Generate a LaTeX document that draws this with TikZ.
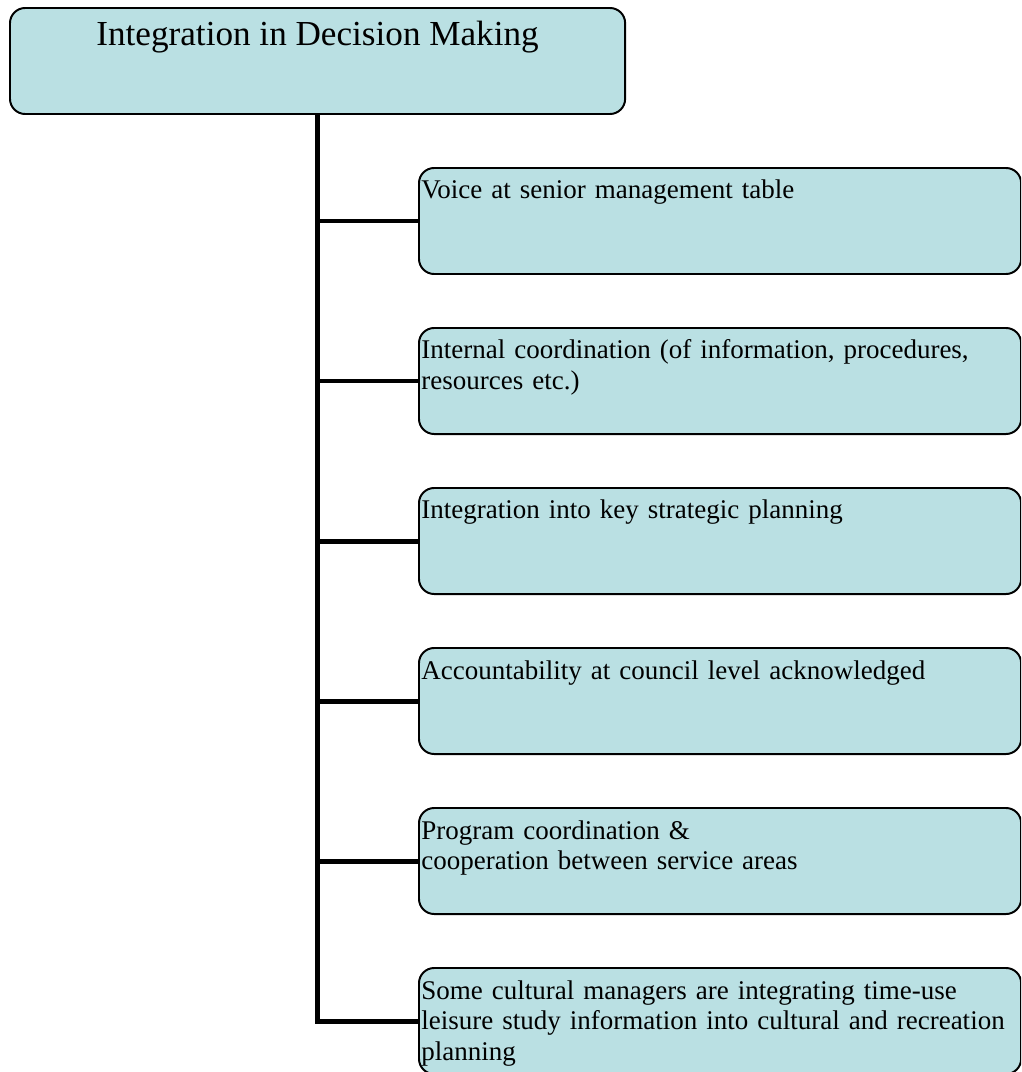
\documentclass[tikz,border=0pt]{standalone}
\usepackage{fontspec}
\setmainfont{Liberation Serif}
\usetikzlibrary{positioning}
\definecolor{boxfill}{RGB}{186,224,227}
\tikzset{topbox/.style={draw=black, line width=1.4pt, fill=boxfill, rounded corners=0.38cm,
  inner sep=0pt, minimum width=15.375cm, minimum height=2.65cm,
  text height=0.95cm, text depth=1.7cm, font=\fontsize{25pt}{29pt}\selectfont},
%children sit to the right of the trunk
itembox/.style={draw=black, line width=1.4pt, fill=boxfill, rounded corners=0.38cm,
  inner xsep=0.06cm, inner ysep=0pt, text width=14.93cm, minimum height=2.65cm,
  align=left, text height=0.775cm, text depth=1.875cm, font=\fontsize{19.2pt}{22pt}\selectfont},
trunk/.style={line width=3.55pt}}

\begin{document}
\begin{tikzpicture}[x=0.025cm, y=-0.025cm]
\useasboundingbox (0,0) rectangle (1021,1072);
\clip (0,0) rectangle (1021,1072);

% root
\node[topbox, anchor=north west] (root) at (9,7) {Integration in Decision Making};

% items
\foreach \i/\txt in {1/{Voice at senior management table},
  2/{Internal coordination (of information, procedures,\\ resources etc.)},
  3/{Integration into key strategic planning},
  4/{Accountability at council level acknowledged},
  5/{Program coordination \&\\ cooperation between service areas},
  6/{Some cultural managers are integrating time-use\\ leisure study information into cultural and recreation\\ planning}}
  \node[itembox, anchor=north west] (c\i) at (418,{7+160*\i}) {\txt};

% connectors
\draw[trunk] (root.south) |- (c6.west);
\foreach \i in {1,...,5}
  \draw[trunk] (root.south |- c\i.west) -- (c\i.west);

\end{tikzpicture}
\end{document}
